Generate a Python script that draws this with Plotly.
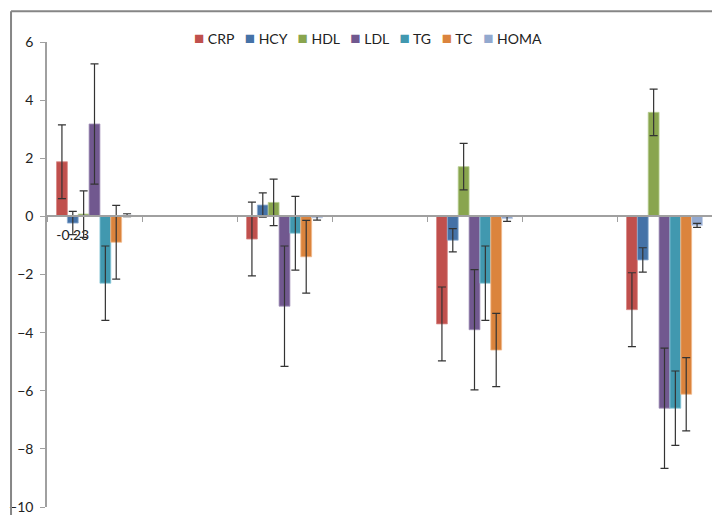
import plotly.graph_objects as go

# ---- data ----
series = ["CRP", "HCY", "HDL", "LDL", "TG", "TC", "HOMA"]
group_pos = [1, 3, 5, 7]
crp = [1.88, -0.78, -3.70, -3.21]
hcy = [-0.23, 0.39, -0.82, -1.50]
hdl = [0.08, 0.48, 1.71, 3.58]
ldl = [3.18, -3.09, -3.90, -6.60]
tg = [-2.30, -0.58, -2.30, -6.60]
tc = [-0.89, -1.39, -4.60, -6.12]
homa = [0.04, -0.05, -0.08, -0.31]

crp_err = [1.27, 1.27, 1.27, 1.27]
hcy_err = [0.40, 0.42, 0.40, 0.42]
hdl_err = [0.80, 0.80, 0.80, 0.80]
ldl_err = [2.07, 2.07, 2.07, 2.07]
tg_err = [1.28, 1.27, 1.28, 1.28]
tc_err = [1.27, 1.25, 1.26, 1.26]
homa_err = [0.05, 0.08, 0.09, 0.07]

hcy_labels = ["-0.23", "", "", ""]

y_ticks = [-10, -8, -6, -4, -2, 0, 2, 4, 6]
x_ticks = [0.5, 1.5, 2.5, 3.5, 4.5, 5.5, 6.5, 7.5]

colors = ["#C0504D", "#4572A7", "#89A54E", "#71588F", "#4198AF", "#DB843D", "#93A9CF"]
line_colors = ["#D98A88", "#8FAED3", "#B9CF94", "#A695BD", "#8CCADB", "#F3BA8D", "#C3D0E7"]

values = [crp, hcy, hdl, ldl, tg, tc, homa]
errors = [crp_err, hcy_err, hdl_err, ldl_err, tg_err, tc_err, homa_err]

FONT = "Lato, 'Open Sans', sans-serif"

fig = go.Figure()
for i, name in enumerate(series):
    kw = {}
    if name == "HCY":
        kw = dict(text=hcy_labels, textposition="outside", constraintext="none",
                  cliponaxis=False, textfont=dict(size=14, color="#222222", family=FONT))
    fig.add_trace(go.Bar(
        name=name, x=group_pos, y=values[i],
        marker=dict(color=colors[i], line=dict(color=line_colors[i], width=0.8)),
        error_y=dict(type="data", array=errors[i], visible=True,
                     color="#333333", thickness=1.2, width=4),
        showlegend=False, **kw))

# compact Excel-like legend as one text line
legend_txt = "&nbsp;&nbsp;&nbsp;".join(
    f"<span style='color:{c};font-size:17px'>■</span> {n}" for n, c in zip(series, colors))

fig.add_annotation(text=legend_txt, xref="paper", yref="paper", x=0.483, y=1.0107,
                   xanchor="center", yanchor="middle", showarrow=False,
                   font=dict(size=14, color="#222222", family=FONT))

# outer chart border (left and top edges visible)
border = dict(color="#868686", width=2)
fig.add_shape(type="line", xref="paper", yref="paper", x0=-0.0541, x1=-0.0541,
              y0=-0.2, y1=1.0661, line=border)
fig.add_shape(type="line", xref="paper", yref="paper", x0=-0.0541, x1=1.0,
              y0=1.0661, y1=1.0661, line=border)

fig.update_layout(
    width=712, height=515,
    margin=dict(l=47, r=0, t=42, b=4),
    paper_bgcolor="white", plot_bgcolor="white",
    barmode="group", bargap=0.6, bargroupgap=0,
    font=dict(family=FONT, size=14, color="#222222"),
    xaxis=dict(range=[0.5, 7.5], tickvals=x_ticks, showticklabels=False,
               ticks="outside", ticklen=5, tickcolor="#A0A0A0",
               showline=True, linecolor="#A0A0A0", linewidth=1.5,
               showgrid=False, zeroline=False,
               anchor="free", position=10 / 16),
    yaxis=dict(range=[-10, 6], tickvals=y_ticks, ticks="outside", ticklen=5,
               tickcolor="#A0A0A0", showline=True, linecolor="#A0A0A0",
               linewidth=1.5, showgrid=False, zeroline=False,
               ticklabelstandoff=4, ticklabeloverflow="allow", domain=[0, 1],
               tickfont=dict(size=14, color="#222222", family=FONT)),
)

fig.write_html("out.html", config={"displayModeBar": False},
               post_script="document.body.style.margin='0px';"
                           "document.body.style.overflow='hidden';")
